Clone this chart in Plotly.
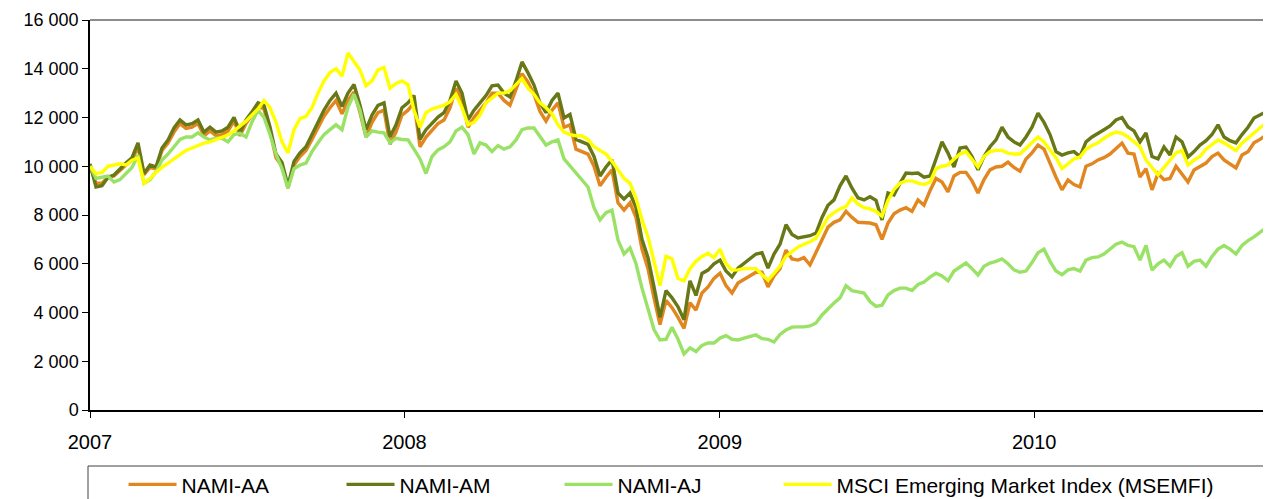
import pandas as pd
import plotly.graph_objects as go

dates = pd.date_range("2007-01-01", "2010-09-27", periods=197)

nami_aa = [10000, 9300, 9300, 9550, 9600, 9850, 10050, 10250, 10800, 9650,
           9950, 9900, 10650, 10950, 11400, 11750, 11550, 11600, 11750, 11250,
           11450, 11250, 11300, 11450, 11850, 11250, 11750, 12100, 12450, 12350,
           11450, 10350, 10000, 9100, 10050, 10400, 10650, 11100, 11550, 12050,
           12400, 12700, 12150, 12700, 13050, 12200, 11200, 11800, 12200, 12300,
           10900, 11400, 12100, 12300, 12600, 10800, 11200, 11500, 11750, 11900,
           12400, 13200, 12700, 11600, 12000, 12300, 12600, 13000, 13000, 12700,
           12500, 13150, 13800, 13450, 12950, 12250, 11850, 12300, 12600, 11600,
           11700, 10700, 10600, 10500, 10000, 9200, 9550, 9850, 8500, 8200,
           8500, 7900, 6600, 5800, 4600, 3500, 4500, 4200, 3800, 3350,
           4400, 4100, 4800, 5050, 5400, 5610, 5100, 4800, 5210, 5350,
           5500, 5650, 5650, 5050, 5500, 5800, 6560, 6200, 6150, 6250,
           5950, 6480, 7000, 7500, 7700, 7800, 8150, 7900, 7700, 7670,
           7670, 7600, 7000, 7670, 8050, 8200, 8300, 8150, 8620, 8400,
           9000, 9500, 9350, 8950, 9600, 9750, 9750, 9400, 8900, 9450,
           9850, 9970, 10000, 10170, 9950, 9800, 10300, 10550, 10870, 10700,
           10100, 9550, 9030, 9440, 9250, 9150, 10000, 10100, 10260, 10350,
           10500, 10750, 10950, 10540, 10500, 9560, 9900, 9030, 9700, 9450,
           9500, 10000, 9700, 9350, 9850, 10000, 10130, 10400, 10540, 10260,
           10100, 9930, 10460, 10600, 10960, 11100, 11280]

nami_am = [10100, 9150, 9200, 9550, 9640, 9900, 10130, 10350, 10960, 9700,
           10050, 9970, 10750, 11080, 11570, 11900, 11700, 11750, 11900, 11400,
           11600, 11400, 11450, 11600, 12000, 11400, 11900, 12230, 12600, 12500,
           11610, 10500, 10150, 9200, 10200, 10550, 10800, 11300, 11780, 12300,
           12700, 13000, 12450, 13000, 13350, 12500, 11500, 12100, 12500, 12600,
           11200, 11700, 12400, 12600, 12900, 11100, 11500, 11780, 12020, 12200,
           12700, 13500, 13000, 11900, 12300, 12600, 12900, 13300, 13330, 13000,
           12840, 13500, 14280, 13830, 13330, 12590, 12200, 12700, 13000, 11980,
           12130, 11100, 11000, 10900, 10400, 9600, 9970, 10260, 8900, 8650,
           8900, 8300, 7000, 6250, 5050, 3800, 4900, 4600, 4230, 3700,
           5300, 4700, 5600, 5740, 6000, 6150, 5700, 5460, 5820, 6000,
           6200, 6400, 6450, 5820, 6400, 6800, 7600, 7200, 7060, 7100,
           7150, 7260, 7900, 8400, 8620, 9200, 9600, 9100, 8700, 8620,
           8750, 8600, 7800, 8900, 8820, 9300, 9720, 9700, 9720, 9550,
           9600, 10300, 11000, 10540, 9970, 10750, 10790, 10400, 9850, 10400,
           10800, 11080, 11600, 11200, 11000, 10870, 11200, 11600, 12180, 11800,
           11300, 10600, 10460, 10550, 10600, 10400, 11000, 11200, 11370, 11500,
           11650, 11900, 12000, 11610, 11450, 11000, 11370, 10400, 10300, 10790,
           10460, 11200, 11000, 10380, 10600, 10870, 11050, 11300, 11700, 11200,
           11050, 10960, 11300, 11600, 11980, 12100, 12230]

nami_aj = [10000, 9500, 9550, 9600, 9350, 9450, 9700, 9950, 10460, 9300,
           9450, 9770, 10260, 10500, 10800, 11100, 11200, 11200, 11370, 11200,
           11080, 11150, 11150, 11000, 11300, 11350, 11200, 11820, 12300, 12000,
           11300, 10500, 9900, 9100, 9900, 10050, 10130, 10600, 10960, 11300,
           11500, 11700, 11500, 12430, 12950, 12300, 11200, 11450, 11400, 11370,
           10960, 11150, 11100, 11080, 10700, 10300, 9700, 10400, 10670, 10800,
           11000, 11450, 11600, 11300, 10500, 10960, 10870, 10600, 10850, 10700,
           10800, 11080, 11500, 11570, 11570, 11200, 10870, 11000, 11080, 10300,
           10000, 9720, 9400, 9150, 8300, 7800, 8100, 8200, 6970, 6400,
           6650, 6000, 5000, 4100, 3300, 2870, 2900, 3400, 2900, 2300,
           2550, 2400, 2650, 2750, 2750, 2950, 3050, 2900, 2870, 2950,
           3000, 3080, 2930, 2900, 2790, 3100, 3280, 3400, 3410, 3410,
           3450, 3570, 3900, 4150, 4390, 4600, 5100, 4900, 4840, 4800,
           4450, 4250, 4300, 4720, 4900, 5000, 5000, 4900, 5150, 5250,
           5450, 5610, 5500, 5300, 5700, 5870, 6030, 5800, 5540, 5900,
           6030, 6100, 6200, 6000, 5750, 5650, 5700, 6050, 6450, 6600,
           6100, 5700, 5550, 5750, 5800, 5700, 6150, 6250, 6280, 6400,
           6600, 6800, 6890, 6750, 6700, 6150, 6750, 5740, 6000, 6150,
           5900, 6300, 6450, 5900, 6100, 6150, 5900, 6300, 6600, 6750,
           6600, 6400, 6750, 6950, 7100, 7300, 7470]

msci = [10000, 9700, 9750, 10000, 10050, 10100, 10050, 10250, 10340, 9300,
        9500, 9750, 9950, 10130, 10300, 10450, 10650, 10750, 10850, 10950,
        11000, 11100, 11200, 11280, 11450, 11650, 11850, 12100, 12350, 12700,
        12400, 11800, 11000, 10550, 11500, 11950, 12050, 12400, 13000, 13500,
        13850, 14000, 13700, 14650, 14300, 13950, 13300, 13500, 13950, 14050,
        13200, 13400, 13500, 13350, 12300, 11600, 12200, 12350, 12430, 12500,
        12650, 12950, 12400, 11700, 11800, 12100, 12600, 12800, 13000, 13000,
        13100, 13350, 13600, 13200, 12950, 12600, 12400, 12150, 11700, 11400,
        11300, 11250, 11250, 11100, 10800, 10650, 10500, 10200, 9850, 9500,
        9300, 8700, 7800, 7100, 6100, 5100, 6300, 6200, 5400, 5300,
        5800, 6100, 6300, 6430, 6250, 6600, 6000, 5740, 5750, 5800,
        5800, 5800, 5550, 5330, 5600, 5900, 6300, 6500, 6690, 6800,
        6900, 7050, 7500, 7900, 8100, 8250, 8350, 8700, 8450, 8300,
        8250, 8150, 7950, 8600, 9050, 9300, 9400, 9400, 9310, 9250,
        9350, 9900, 10000, 10050, 10300, 10500, 10600, 10300, 9970, 10400,
        10600, 10650, 10650, 10540, 10500, 10500, 10750, 10950, 11200, 11000,
        10700, 10350, 9900, 10100, 10300, 10380, 10700, 10850, 10960, 11150,
        11300, 11400, 11350, 11200, 11000, 10800, 10250, 9950, 9650, 9950,
        10250, 10550, 10650, 10050, 10250, 10400, 10700, 10900, 11080, 10960,
        10800, 10650, 10950, 11150, 11350, 11550, 11780]

series = [
    ("NAMI-AA", nami_aa, "#E2861F", "legend"),
    ("NAMI-AM", nami_am, "#687816", "legend"),
    ("NAMI-AJ", nami_aj, "#9AE266", "legend"),
    ("MSCI Emerging Market Index (MSEMFI)", msci, "#FFFF00", "legend2"),
]

y_ticks = list(range(0, 16001, 2000))

fig = go.Figure()
for name, vals, col, lg in series:
    fig.add_trace(go.Scatter(x=dates, y=vals, name=name, mode="lines",
                             legend=lg, line=dict(color=col, width=3.4)))

common_legend = dict(orientation="h", xanchor="left", y=-0.139, yanchor="top",
                     font=dict(size=21), itemwidth=48,
                     bgcolor="rgba(0,0,0,0)", borderwidth=0)

fig.update_layout(
    width=1263, height=491,
    margin=dict(l=82, r=5, t=12, b=89, autoexpand=False),
    paper_bgcolor="white", plot_bgcolor="white",
    separators=", ",
    font=dict(family="Liberation Sans, Arial, sans-serif", size=18, color="black"),
    showlegend=True,
    legend=dict(x=0.0285, entrywidth=155, entrywidthmode="pixels", **common_legend),
    legend2=dict(x=0.5855, **common_legend),
    shapes=[
        dict(type="line", xref="paper", yref="paper", x0=0, x1=1, y0=1, y1=1,
             line=dict(color="#8C8C8C", width=2)),
        dict(type="rect", xref="paper", yref="paper", x0=-0.0017, x1=1.02,
             y0=-0.1436, y1=-0.30, line=dict(color="#404040", width=1)),
    ],
)
fig.update_xaxes(
    range=[dates[0], dates[-1]], type="date", dtick="M12", tickformat="%Y",
    showgrid=False, zeroline=False, showline=True, linecolor="black", linewidth=1.5,
    ticks="outside", ticklen=6, tickcolor="black", tickfont=dict(size=20),
    ticklabelstandoff=7, automargin=False,
)
fig.update_yaxes(
    range=[0, 16000], tickvals=y_ticks, separatethousands=True, tickformat=",d",
    showgrid=False, zeroline=False, showline=True, linecolor="black", linewidth=1.5,
    mirror=True, ticks="outside", ticklen=6, tickcolor="black", tickfont=dict(size=18),
    automargin=False,
)

fig.write_html("out.html")
